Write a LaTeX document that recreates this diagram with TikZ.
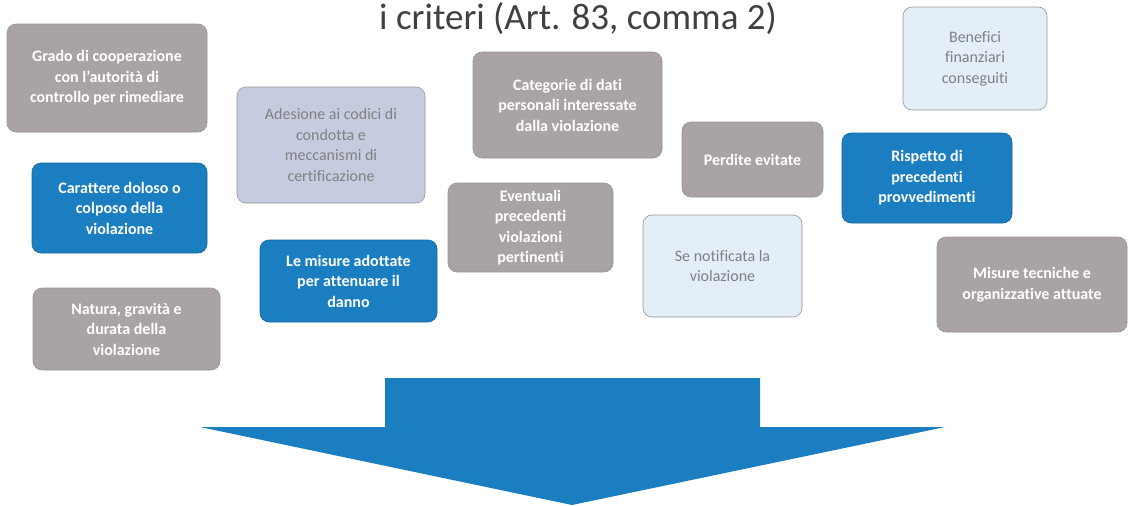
\documentclass[tikz,border=0pt]{standalone}
\usepackage{fontspec}
\setmainfont{Carlito}[Ligatures=NoCommon]
\usepackage{xcolor}
\definecolor{critblue}{RGB}{27,126,192}
\definecolor{critgrey}{RGB}{169,163,166}
\definecolor{critslate}{RGB}{198,204,224}
\definecolor{critpale}{RGB}{227,238,248}
\definecolor{crittext}{RGB}{128,128,130}
\definecolor{critedge}{RGB}{150,148,152}

\begin{document}
\begin{tikzpicture}[x=1pt,y=-1pt,
    critbox/.style={rounded corners=9pt,draw=critedge,line width=0.6pt,
      align=center,inner sep=2pt,font=\fontsize{16}{20.5}\selectfont},
    greybox/.style={critbox,fill=critgrey,text=white,font=\fontsize{16}{20.5}\selectfont\bfseries},
    bluebox/.style={critbox,fill=critblue,draw=critblue!80!black,text=white,font=\fontsize{16}{20.5}\selectfont\bfseries},
    slatebox/.style={critbox,fill=critslate,text=crittext},
    palebox/.style={critbox,fill=critpale,text=crittext}]
  \useasboundingbox (0,0) rectangle (1128,506);
  % title
  \node[anchor=base,font=\fontsize{37}{40}\selectfont,text=black!75] (title) at (578,29) {i criteri (Art. 83, comma 2)};
  % left column
  \node[greybox,minimum width=200pt,minimum height=108pt] (grado) at (107,78)
    {Grado di cooperazione\\con l'autorità di\\controllo per rimediare};
  \node[bluebox,minimum width=175pt,minimum height=90pt] (carattere) at (119.5,208)
    {Carattere doloso o\\colposo della\\violazione};
  \node[greybox,minimum width=187pt,minimum height=82pt] (natura) at (126.5,329)
    {Natura, gravità e\\durata della\\violazione};
  % second column
  \node[slatebox,minimum width=188pt,minimum height=116pt] (adesione) at (331,145)
    {Adesione ai codici di\\condotta e\\meccanismi di\\certificazione};
  \node[bluebox,minimum width=177pt,minimum height=82pt] (misure) at (348.5,281)
    {Le misure adottate\\per attenuare il\\danno};
  % middle
  \node[greybox,minimum width=189pt,minimum height=106pt] (categorie) at (567.5,105)
    {Categorie di dati\\personali interessate\\dalla violazione};
  \node[greybox,minimum width=165pt,minimum height=89pt] (eventuali) at (530.5,227.5)
    {Eventuali\\precedenti\\violazioni\\pertinenti};
  \node[greybox,minimum width=141pt,minimum height=75pt] (perdite) at (752.5,159.5)
    {Perdite evitate};
  \node[palebox,minimum width=159pt,minimum height=102pt] (notificata) at (722.5,266)
    {Se notificata la\\violazione};
  % right column
  \node[palebox,minimum width=144pt,minimum height=103pt] (benefici) at (975,58.5)
    {Benefici\\finanziari\\conseguiti};
  \node[bluebox,minimum width=170pt,minimum height=90pt] (rispetto) at (927,178)
    {Rispetto di\\precedenti\\provvedimenti};
  \node[greybox,minimum width=190pt,minimum height=95pt] (tecniche) at (1032,284.5)
    {Misure tecniche e\\organizzative attuate};
  % big arrow
  \fill[critblue] (385,378) -- (760,378) -- (760,427) -- (945,427)
    -- (572,505) -- (200,427) -- (385,427) -- cycle;
\end{tikzpicture}
\end{document}
